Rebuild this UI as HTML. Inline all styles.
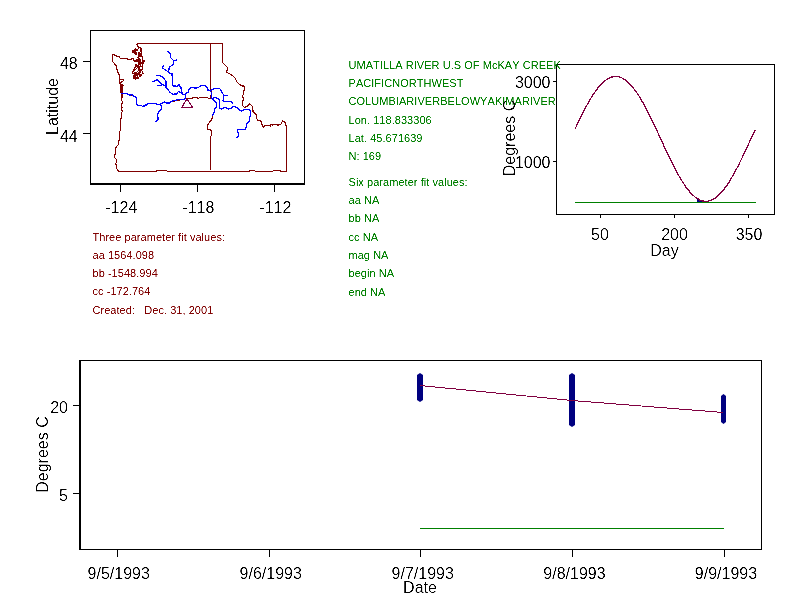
<!DOCTYPE html>
<html><head><meta charset="utf-8"><title>chart</title>
<style>
html,body{margin:0;padding:0;background:#fff;}
body{width:792px;height:611px;overflow:hidden;position:relative;font-family:"Liberation Sans",sans-serif;}
svg{position:absolute;left:0;top:0;will-change:transform;}
text{font-family:"Liberation Sans",sans-serif;}
.ax{font-size:16px;fill:#000;font-kerning:none;}
.g{font-size:11px;fill:#008000;font-kerning:none;letter-spacing:0.045px;}
.r{font-size:11px;fill:#800000;font-kerning:none;letter-spacing:0.04px;}
.ln{shape-rendering:crispEdges;}
</style></head><body>
<svg width="792" height="611" viewBox="0 0 792 611">
<defs><filter id="bin" x="0" y="0" width="100%" height="100%" filterUnits="userSpaceOnUse" color-interpolation-filters="sRGB"><feComponentTransfer><feFuncA type="table" tableValues="0 0 0.55 1 1"/></feComponentTransfer></filter><filter id="bin2" x="0" y="0" width="100%" height="100%" filterUnits="userSpaceOnUse" color-interpolation-filters="sRGB"><feComponentTransfer><feFuncA type="table" tableValues="0 0 0.25 1 1"/></feComponentTransfer></filter></defs>
<rect x="0" y="0" width="792" height="611" fill="#fff"/>

<g class="ln" fill="#000">
<rect x="90" y="30" width="215" height="1"/>
<rect x="90" y="30" width="1" height="154"/>
<rect x="304" y="30" width="1" height="154"/>
<rect x="90" y="183" width="215" height="2"/>
<rect x="83" y="61" width="7" height="1"/>
<rect x="83" y="133" width="7" height="1"/>
<rect x="120" y="185" width="1" height="7"/>
<rect x="197" y="185" width="1" height="7"/>
<rect x="274" y="185" width="1" height="7"/>
</g>
<g fill="none" stroke-linejoin="round" stroke-linecap="square" shape-rendering="crispEdges">
<g stroke="#800000" stroke-width="1.2">
<path d="M137.2,43.5 L222.6,43.5 L222.5,62.5 L225.2,65.2 L227.1,67.1 L227.4,69.7 L226.3,72.4 L229.3,73.5 L232.4,75.4 L235.2,78.3 L237.3,82.4 L239.9,84.7 L241.5,85.8 L244.5,86.2 L244.5,88.9 L243.7,91.2 L243.3,94.6 L242.2,96.1 L243.3,98.0 L243.6,100.2 L242.4,101.3 L242.4,105.5 L244.3,107.4 L247.4,106.2 L249.6,103.6 L252.3,106.2 L253.0,111.2 L256.5,114.9 L256.1,118.0 L258.0,120.2 L261.0,121.0 L261.4,124.0 L263.7,127.1 L264.8,125.2 L269.3,125.2 L270.1,126.3 L271.2,124.4 L272.4,125.2 L273.5,124.4 L276.9,124.4 L278.0,125.2 L281.1,124.0 L282.6,120.6 L284.9,122.5 L286.5,126.3 L286.5,171.5 L281.2,171.5 L280.4,170.4 L273.5,170.4 L272.6,171.5 L255.5,171.5 L254.6,170.4 L249.5,170.4 L249.0,171.5 L167.4,171.5 L166.4,170.6 L157.1,170.6 L156.6,171.5 L119.0,171.5 L116.6,168.6 L116.6,165.2 L115.4,163.7 L116.3,162.7 L116.3,159.3 L114.4,157.3 L114.4,154.8 L115.4,153.9 L115.4,149.4 L116.3,147.0 L118.3,144.5 L118.5,140.6 L119.6,140.1 L119.6,131.3 L120.5,130.8 L120.5,119.0 L121.3,118.0 L121.3,113.9 L122.4,111.2 L121.3,109.3 L122.0,107.8 L121.6,104.8 L122.4,101.8 L121.3,99.5 L122.0,98.0 L122.0,93.4"/>
<path d="M122.0,93.4 L120.5,92.7 L120.5,84.0 L119.6,82.8 L119.7,79.4 L119.4,75.2 L118.2,73.3 L117.1,70.3 L116.3,65.8 L115.6,65.0 L113.7,62.7 L112.5,61.6 L112.5,54.5 L114.1,54.5 L115.6,55.9 L118.6,56.3 L120.1,58.2 L126.9,58.6 L127.7,59.3 L131.5,59.3 L132.6,58.2 L134.1,60.5 L136.8,60.5"/>
<path d="M119.6,79.5 L123.2,79.5 L123.9,80.5 L120.9,82.4"/>
<path d="M210.5,43.5 L210.5,90.0 L211.5,92.3 L210.8,96.5 L211.2,98.3"/>
<path d="M122.0,93.4 L126.2,93.4 L128.5,94.2 L129.6,95.6 L132.2,94.9 L134.1,96.8 L135.7,96.5 L136.4,98.3 L136.6,104.4 L137.9,105.5 L141.3,105.5 L142.5,106.3 L144.4,106.2 L145.1,105.2 L147.0,104.8 L148.2,103.3 L155.7,103.3 L156.8,104.8 L160.3,104.6 L161.4,103.3 L164.4,102.1 L165.9,102.9 L170.1,102.9 L171.2,101.8 L177.3,100.2 L183.3,99.6 L186.4,98.5 L191.7,98.5 L193.2,97.6 L197.0,97.6 L198.1,98.5 L200.0,97.6 L207.6,97.6 L208.7,98.5 L211.2,98.5"/>
<path d="M212.7,115.4 L212.3,116.2 L211.9,119.2 L210.2,121.4 L207.3,125.4 L207.3,129.3 L211.7,130.3 L211.7,135.7 L210.5,136.2 L210.5,169.8"/>
</g>
<g fill="#800000" stroke="#800000" stroke-width="0.6">
<path d="M120,84h3v1h1v1h-1v7h-3z" stroke="none"/>
</g>
<path d="M136,44h2v1h-2zM137,45h1v1h-1zM137,46h2v1h-2zM138,47h3v1h-3zM135,48h1v1h-1zM138,48h1v1h-1zM140,48h2v1h-2zM134,49h4v1h-4zM140,49h2v1h-2zM132,50h6v1h-6zM140,50h2v1h-2zM132,51h4v1h-4zM140,51h2v1h-2zM132,52h5v1h-5zM138,52h2v1h-2zM141,52h1v1h-1zM134,53h3v1h-3zM138,53h4v1h-4zM135,54h2v1h-2zM138,54h4v1h-4zM138,55h4v1h-4zM138,56h5v1h-5zM137,57h2v1h-2zM142,57h1v1h-1zM132,58h1v1h-1zM138,58h2v1h-2zM142,58h1v1h-1zM133,59h1v1h-1zM136,59h5v1h-5zM142,59h1v1h-1zM133,60h8v1h-8zM142,60h3v1h-3zM134,61h7v1h-7zM142,61h3v1h-3zM138,62h6v1h-6zM138,63h6v1h-6zM135,64h2v1h-2zM138,64h3v1h-3zM142,64h1v1h-1zM135,65h4v1h-4zM140,65h1v1h-1zM142,65h1v1h-1zM135,66h8v1h-8zM134,67h2v1h-2zM137,67h3v1h-3zM142,67h1v1h-1zM134,68h1v1h-1zM136,68h1v1h-1zM138,68h2v1h-2zM142,68h1v1h-1zM133,69h3v1h-3zM138,69h5v1h-5zM133,70h2v1h-2zM138,70h4v1h-4zM132,71h2v1h-2zM137,71h1v1h-1zM139,71h2v1h-2zM142,71h1v1h-1zM132,72h1v1h-1zM134,72h3v1h-3zM138,72h3v1h-3zM142,72h1v1h-1zM132,73h8v1h-8zM142,73h2v1h-2zM134,74h8v1h-8zM133,75h5v1h-5zM139,75h3v1h-3zM133,76h3v1h-3zM137,76h1v1h-1zM139,76h2v1h-2zM133,77h6v1h-6zM133,78h6v1h-6zM135,79h1v1h-1z" fill="#800000" stroke="none" shape-rendering="crispEdges"/>
<g stroke="#0000ff" stroke-width="1.3">
<path d="M168.2,51.4 L170.5,54.0 L170.8,57.8 L173.5,60.5 L173.5,64.2 L170.8,66.1 L169.3,66.5 L168.9,69.9 L168.2,71.8 L169.7,73.3 L172.0,73.7 L172.3,77.9 L172.7,85.8 L176.9,86.2 L178.8,84.3 L181.1,87.7 L181.4,91.9 L183.0,94.2 L185.2,94.2 L185.2,98.3 L183.3,99.5 L177.3,99.8 L171.2,101.4 L170.1,102.9 L165.9,102.9 L164.4,102.1 L161.4,103.3 L160.3,104.6 L156.8,104.8 L155.7,103.3 L148.2,103.3 L147.0,104.8 L145.1,105.2 L144.4,105.9 L142.5,106.3 L141.3,105.5 L137.9,105.5 L136.6,104.4 L136.4,98.3 L135.7,96.5 L134.1,96.5 L132.2,94.6 L129.6,95.3 L128.5,94.2 L126.2,93.4 L122.0,93.4"/>
<path d="M173.5,60.5 L176.5,60.1"/>
<path d="M168.2,71.8 L162.5,68.0 L163.3,66.1"/>
<path d="M157.2,75.2 L159.8,75.6 L163.6,77.9 L165.9,81.3 L165.9,87.4 L168.2,90.0 L170.1,92.3 L172.7,94.2 L176.5,94.0 L178.4,91.5 L180.3,92.3 L181.8,93.8 L183.0,94.2"/>
<path d="M153.0,81.7 L157.2,79.4 L159.1,81.3 L162.1,84.3 L165.5,86.2"/>
<path d="M157.2,85.8 L161.7,85.5"/>
<path d="M160.6,104.4 L161.4,106.3 L161.4,109.3 L158.3,112.4 L157.6,115.4 L158.3,119.2 L156.1,121.4"/>
<path d="M185.2,94.2 L187.9,92.3 L189.4,88.9 L191.3,87.4 L195.5,88.1 L198.5,87.4 L200.8,85.5 L205.6,85.5 L206.2,87.4 L207.4,88.1 L207.7,90.0 L210.0,90.4 L211.2,92.3 L211.5,97.2 L212.3,98.7 L213.4,100.6 L215.7,101.8 L216.8,104.4 L216.5,107.4 L214.6,109.3 L214.2,112.4 L212.7,115.4"/>
<path d="M211.2,90.4 L213.8,88.5 L219.5,88.5 L221.0,90.0 L222.1,92.7 L223.7,94.9 L223.7,100.2 L222.5,100.6 L226.3,101.8 L228.6,101.4 L231.6,101.8 L232.4,102.9"/>
<path d="M223.7,95.3 L227.8,95.3"/>
<path d="M212.3,98.7 L214.9,97.6 L218.0,98.3 L219.5,100.6 L219.5,107.8 L221.0,109.0 L225.5,107.4 L228.6,109.0 L230.8,108.6 L232.7,106.7 L235.4,106.7 L238.4,109.0 L241.6,111.2 L244.6,109.6 L249.6,109.6 L250.4,111.2 L250.2,116.1 L249.3,118.0 L249.3,121.4 L247.0,123.3 L246.2,127.1 L244.7,129.7 L241.3,129.7 L240.2,129.3 L237.9,129.7 L237.5,132.0 L238.4,133.1 L238.4,136.2 L237.3,137.5"/>
</g>
<path d="M187.1,98.9 L181.6,107.5 L192.8,107.5 Z" stroke="#800040" stroke-width="1.1" stroke-linejoin="miter"/>
</g>
<g class="ln" fill="#000">
<rect x="556" y="64" width="219" height="1"/>
<rect x="556" y="64" width="1" height="151"/>
<rect x="774" y="64" width="1" height="151"/>
<rect x="556" y="214" width="219" height="1"/>
<rect x="553" y="81" width="3" height="1"/>
<rect x="553" y="161" width="3" height="1"/>
<rect x="600" y="215" width="1" height="3"/>
<rect x="674" y="215" width="1" height="3"/>
<rect x="748" y="215" width="1" height="3"/>
</g>
<path d="M697,202 L697,199 L698.6,199 L701.6,201 L701.6,202 Z" fill="#000080" shape-rendering="crispEdges"/>
<rect class="ln" x="575" y="202" width="181" height="1" fill="#008000"/>
<path d="M575.3,128.5 L576.3,126.4 L577.3,124.3 L578.3,122.2 L579.3,120.1 L580.2,118.1 L581.2,116.1 L582.2,114.1 L583.2,112.2 L584.2,110.2 L585.2,108.3 L586.2,106.5 L587.2,104.7 L588.2,102.9 L589.1,101.2 L590.1,99.5 L591.1,97.8 L592.1,96.2 L593.1,94.7 L594.1,93.2 L595.1,91.8 L596.1,90.4 L597.1,89.1 L598.0,87.8 L599.0,86.6 L600.0,85.5 L601.0,84.4 L602.0,83.4 L603.0,82.4 L604.0,81.5 L605.0,80.7 L606.0,80.0 L606.9,79.3 L607.9,78.7 L608.9,78.2 L609.9,77.7 L610.9,77.3 L611.9,77.0 L612.9,76.8 L613.9,76.6 L614.9,76.5 L615.8,76.5 L616.8,76.6 L617.8,76.7 L618.8,76.9 L619.8,77.2 L620.8,77.5 L621.8,77.9 L622.8,78.4 L623.8,79.0 L624.7,79.6 L625.7,80.3 L626.7,81.1 L627.7,82.0 L628.7,82.9 L629.7,83.9 L630.7,84.9 L631.7,86.0 L632.7,87.2 L633.6,88.4 L634.6,89.7 L635.6,91.1 L636.6,92.5 L637.6,93.9 L638.6,95.4 L639.6,97.0 L640.6,98.6 L641.5,100.3 L642.5,102.0 L643.5,103.7 L644.5,105.5 L645.5,107.4 L646.5,109.2 L647.5,111.2 L648.5,113.1 L649.5,115.1 L650.4,117.1 L651.4,119.1 L652.4,121.1 L653.4,123.2 L654.4,125.3 L655.4,127.4 L656.4,129.5 L657.4,131.7 L658.4,133.8 L659.3,135.9 L660.3,138.1 L661.3,140.2 L662.3,142.4 L663.3,144.5 L664.3,146.7 L665.3,148.8 L666.3,150.9 L667.3,153.0 L668.2,155.1 L669.2,157.1 L670.2,159.2 L671.2,161.2 L672.2,163.2 L673.2,165.2 L674.2,167.1 L675.2,169.0 L676.2,170.9 L677.1,172.7 L678.1,174.5 L679.1,176.2 L680.1,177.9 L681.1,179.6 L682.1,181.2 L683.1,182.7 L684.1,184.2 L685.1,185.7 L686.0,187.1 L687.0,188.4 L688.0,189.7 L689.0,190.9 L690.0,192.1 L691.0,193.2 L692.0,194.2 L693.0,195.1 L694.0,196.0 L694.9,196.9 L695.9,197.6 L696.9,198.3 L697.9,198.9 L698.9,199.5 L699.9,200.0 L700.9,200.4 L701.9,200.7 L702.9,201.0 L703.8,201.2 L704.8,201.3 L705.8,201.3 L706.8,201.3 L707.8,201.2 L708.8,201.0 L709.8,200.7 L710.8,200.4 L711.8,200.0 L712.7,199.5 L713.7,199.0 L714.7,198.3 L715.7,197.6 L716.7,196.9 L717.7,196.1 L718.7,195.2 L719.7,194.2 L720.7,193.2 L721.6,192.1 L722.6,190.9 L723.6,189.7 L724.6,188.4 L725.6,187.1 L726.6,185.7 L727.6,184.3 L728.6,182.7 L729.6,181.2 L730.5,179.6 L731.5,177.9 L732.5,176.2 L733.5,174.5 L734.5,172.7 L735.5,170.9 L736.5,169.0 L737.5,167.1 L738.5,165.2 L739.4,163.2 L740.4,161.2 L741.4,159.2 L742.4,157.2 L743.4,155.1 L744.4,153.0 L745.4,150.9 L746.4,148.8 L747.4,146.7 L748.3,144.5 L749.3,142.4 L750.3,140.3 L751.3,138.1 L752.3,136.0 L753.3,133.8 L754.3,131.7 L755.3,129.6" fill="none" stroke="#800040" stroke-width="1.3" shape-rendering="crispEdges"/>
<g class="ln" fill="#000">
<rect x="79" y="360" width="683" height="1"/>
<rect x="79" y="360" width="2" height="190"/>
<rect x="761" y="360" width="1" height="190"/>
<rect x="79" y="549" width="683" height="1"/>
<rect x="73" y="405" width="6" height="1"/>
<rect x="73" y="493" width="6" height="1"/>
<rect x="117" y="550" width="1" height="7"/>
<rect x="269" y="550" width="1" height="7"/>
<rect x="420" y="550" width="1" height="7"/>
<rect x="572" y="550" width="1" height="7"/>
<rect x="724" y="550" width="1" height="7"/>
</g>
<rect class="ln" x="420" y="528" width="304" height="1" fill="#008000"/>
<path d="M417,375 L420,373 L423,375 L423,400 L420,402 L417,400 Z" fill="#000080"/>
<path d="M569,375 L572,373 L575,375 L575,425 L572,427 L569,425 Z" fill="#000080"/>
<path d="M721,396 L723.5,394 L726,396 L726,422 L723.5,424 L721,422 Z" fill="#000080"/>
<path d="M420,385.5 L572,400.5 L723.5,412.5" fill="none" stroke="#800040" stroke-width="1" shape-rendering="crispEdges"/>
<g filter="url(#bin)">
<text class="g" x="348.5" y="69">UMATILLA RIVER U.S OF McKAY CREEK</text>
<text class="g" x="348.5" y="87">PACIFICNORTHWEST</text>
<text class="g" x="348.5" y="105">COLUMBIARIVERBELOWYAKIMARIVER</text>
<text class="g" x="348.5" y="124">Lon. 118.833306</text>
<text class="g" x="348.5" y="142">Lat. 45.671639</text>
<text class="g" x="348.5" y="160">N: 169</text>
<text class="g" x="348.5" y="186">Six parameter fit values:</text>
<text class="g" x="348.5" y="204">aa NA</text>
<text class="g" x="348.5" y="222">bb NA</text>
<text class="g" x="348.5" y="241">cc NA</text>
<text class="g" x="348.5" y="259">mag NA</text>
<text class="g" x="348.5" y="277">begin NA</text>
<text class="g" x="348.5" y="296">end NA</text>
<text class="r" x="92.5" y="241" xml:space="preserve">Three parameter fit values:</text>
<text class="r" x="92.5" y="259" xml:space="preserve">aa 1564.098</text>
<text class="r" x="92.5" y="277" xml:space="preserve">bb -1548.994</text>
<text class="r" x="92.5" y="295" xml:space="preserve">cc -172.764</text>
<text class="r" x="92.5" y="313.6" xml:space="preserve">Created:&#160;&#160;&#160;Dec. 31, 2001</text>
</g>
<g filter="url(#bin2)">
<text class="ax" x="77.7" y="68.7" text-anchor="end">48</text>
<text class="ax" x="77.7" y="141.5" text-anchor="end">44</text>
<text class="ax" x="121.3" y="213" text-anchor="middle">-124</text>
<text class="ax" x="198.4" y="213" text-anchor="middle">-118</text>
<text class="ax" x="275.4" y="213" text-anchor="middle">-112</text>
<text class="ax" transform="translate(58,106.5) rotate(-90)" text-anchor="middle">Latitude</text>
<text class="ax" x="550.5" y="88.4" text-anchor="end">3000</text>
<text class="ax" x="550.5" y="168.4" text-anchor="end">1000</text>
<text class="ax" x="600" y="240" text-anchor="middle">50</text>
<text class="ax" x="674.5" y="240" text-anchor="middle">200</text>
<text class="ax" x="749" y="240" text-anchor="middle">350</text>
<text class="ax" x="664.5" y="255.5" text-anchor="middle">Day</text>
<text class="ax" transform="translate(515,138) rotate(-90)" text-anchor="middle">Degrees C</text>
<text class="ax" x="68" y="412.5" text-anchor="end">20</text>
<text class="ax" x="68" y="500.5" text-anchor="end">5</text>
<text class="ax" x="118.7" y="578.5" text-anchor="middle">9/5/1993</text>
<text class="ax" x="270.7" y="578.5" text-anchor="middle">9/6/1993</text>
<text class="ax" x="422.7" y="578.5" text-anchor="middle">9/7/1993</text>
<text class="ax" x="574.5" y="578.5" text-anchor="middle">9/8/1993</text>
<text class="ax" x="726" y="578.5" text-anchor="middle">9/9/1993</text>
<text class="ax" x="420" y="592.7" text-anchor="middle">Date</text>
<text class="ax" transform="translate(47.5,454.5) rotate(-90)" text-anchor="middle">Degrees C</text>
</g>
</svg></body></html>
